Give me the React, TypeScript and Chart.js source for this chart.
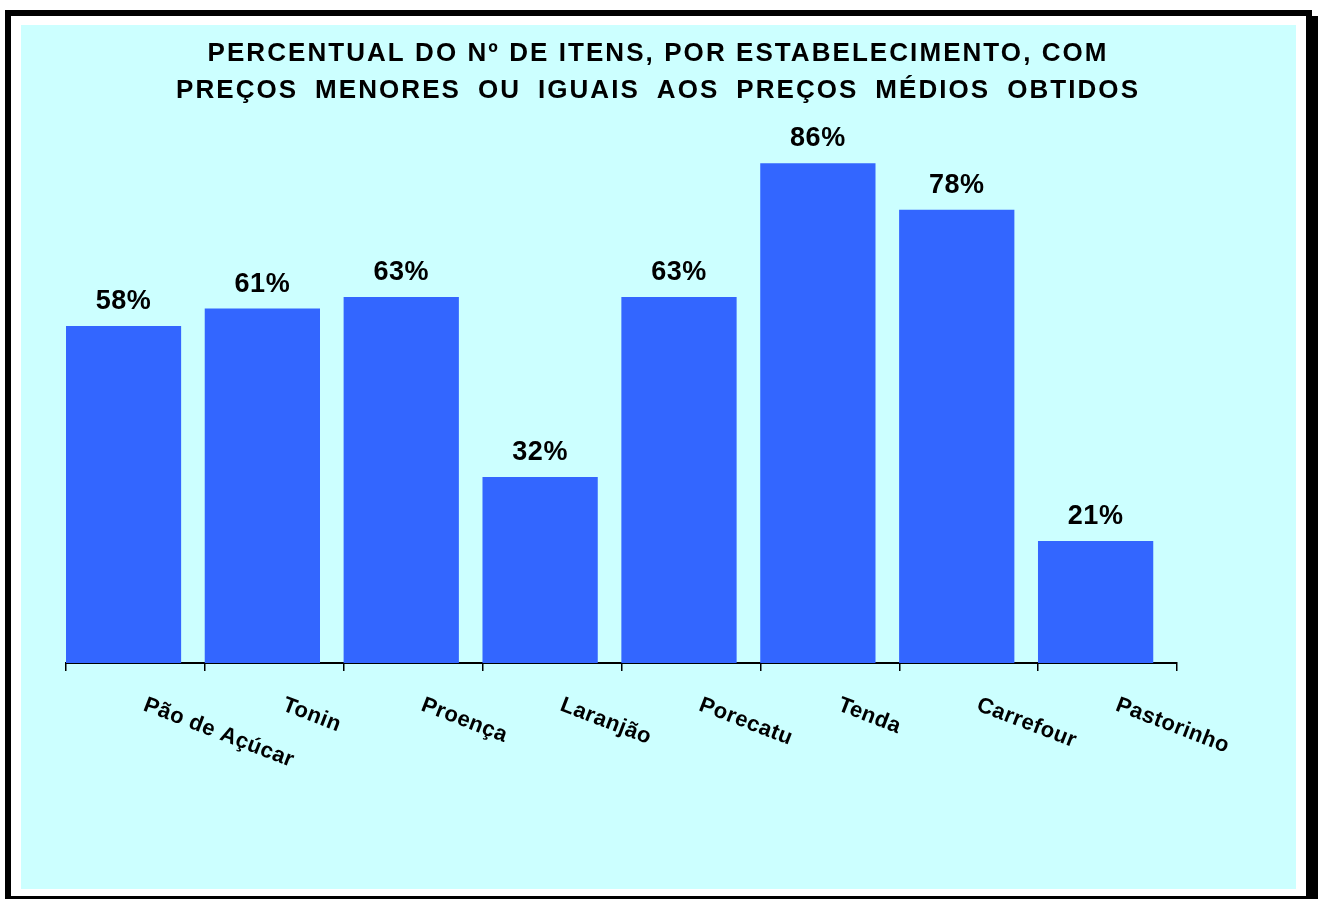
import React, { useEffect, useRef } from "react";
import { Chart, registerables } from "chart.js";

Chart.register(...registerables);

// ---- data ----
const categories = [
  "Pão de Açúcar",
  "Tonin",
  "Proença",
  "Laranjão",
  "Porecatu",
  "Tenda",
  "Carrefour",
  "Pastorinho",
];
const percentValues = [58, 61, 63, 32, 63, 86, 78, 21];
const titleLines = [
  "PERCENTUAL DO Nº DE ITENS, POR ESTABELECIMENTO, COM",
  "PREÇOS MENORES OU IGUAIS AOS PREÇOS MÉDIOS OBTIDOS",
];
const yAxisMin = 0;
const yAxisMax = 100;

// ---- style ----
const W = 1318;
const H = 899;
const FONT = '"Liberation Sans", Arial, Helvetica, sans-serif';
const BAR_COLOR = "#3366FF";
const PANEL_COLOR = "#CCFFFF";
const BAR_POS_IN_SLOT = 0.414; // Excel draws bars left-shifted in each slot
const TITLE_WIDTHS = [899, 962];
const TITLE_BASELINES = [61, 98];
const TITLE_CENTER = 657;

const framePlugin = {
  id: "frame",
  beforeDraw(chart: any) {
    const ctx = chart.ctx;
    ctx.save();
    ctx.fillStyle = "#FFFFFF";
    ctx.fillRect(0, 0, W, H);
    ctx.fillStyle = "#000000";
    ctx.fillRect(5, 10, 1307, 6); // top
    ctx.fillRect(5, 10, 6, H - 10); // left
    ctx.fillRect(1306, 16, W - 1306, H - 16); // right (with shadow)
    ctx.fillRect(5, 896, W - 5, H - 896); // bottom
    ctx.fillStyle = PANEL_COLOR;
    ctx.fillRect(21, 25, 1275, 864);
    ctx.restore();
  },
};

const titlePlugin = {
  id: "titleText",
  afterDraw(chart: any) {
    const ctx = chart.ctx;
    ctx.save();
    ctx.font = `bold 26px ${FONT}`;
    ctx.fillStyle = "#000";
    ctx.textAlign = "left";
    ctx.textBaseline = "alphabetic";
    // line 1: spread letters to width
    (ctx as any).wordSpacing = "0px";
    (ctx as any).letterSpacing = "0px";
    const n1 = ctx.measureText(titleLines[0]).width;
    const ls = (TITLE_WIDTHS[0] - n1) / (titleLines[0].length - 1);
    (ctx as any).letterSpacing = `${ls}px`;
    ctx.fillText(titleLines[0], TITLE_CENTER - TITLE_WIDTHS[0] / 2, TITLE_BASELINES[0]);
    // line 2: same letter spacing, extra on words
    (ctx as any).letterSpacing = "0px";
    const n2 = ctx.measureText(titleLines[1]).width + ls * (titleLines[1].length - 1);
    const spaces = titleLines[1].split(" ").length - 1;
    const ws = (TITLE_WIDTHS[1] - n2) / spaces;
    (ctx as any).letterSpacing = `${ls}px`;
    (ctx as any).wordSpacing = `${ws}px`;
    ctx.fillText(titleLines[1], TITLE_CENTER - TITLE_WIDTHS[1] / 2, TITLE_BASELINES[1]);
    ctx.restore();
  },
};

const labelsPlugin = {
  id: "barLabels",
  afterDatasetsDraw(chart: any) {
    const ctx = chart.ctx;
    const meta = chart.getDatasetMeta(0);
    ctx.save();
    ctx.font = `bold 27px ${FONT}`;
    (ctx as any).letterSpacing = "0.5px";
    ctx.fillStyle = "#000";
    ctx.textAlign = "center";
    ctx.textBaseline = "alphabetic";
    meta.data.forEach((el: any, i: number) => {
      ctx.fillText(`${percentValues[i]}%`, el.x, el.y - 17);
    });
    ctx.restore();

    // category labels, rotated clockwise like Excel
    const xs = chart.scales.x;
    ctx.save();
    ctx.font = `bold 22px ${FONT}`;
    (ctx as any).letterSpacing = "0.5px";
    ctx.fillStyle = "#000";
    ctx.textAlign = "left";
    ctx.textBaseline = "top";
    categories.forEach((c, i) => {
      const px = xs.getPixelForValue(i + 0.5) + 13;
      const py = xs.bottom + 23;
      ctx.save();
      ctx.translate(px, py);
      ctx.rotate((21 * Math.PI) / 180);
      ctx.fillText(c, 0, 0);
      ctx.restore();
    });
    ctx.restore();
  },
};

export default function App() {
  const ref = useRef<HTMLCanvasElement | null>(null);
  useEffect(() => {
    if (!ref.current) return;
    const chart = new Chart(ref.current, {
      type: "bar",
      data: {
        datasets: [
          {
            data: percentValues.map((v, i) => ({ x: i + BAR_POS_IN_SLOT, y: v })),
            backgroundColor: BAR_COLOR,
            borderWidth: 0,
            barPercentage: 0.83,
            categoryPercentage: 1,
          },
        ],
      },
      options: {
        animation: false,
        responsive: false,
        layout: { padding: { left: 66, right: 141, top: 82, bottom: 228 } },
        plugins: {
          legend: { display: false },
          tooltip: { enabled: false },
          title: { display: false },
        },
        scales: {
          x: {
            type: "linear",
            offset: false,
            min: 0,
            max: categories.length,
            position: "bottom",
            ticks: { display: false, stepSize: 1 },
            grid: {
              display: true,
              offset: false,
              drawOnChartArea: false,
              drawTicks: true,
              tickLength: 8,
              color: "#000",
              lineWidth: 1.5,
            },
            border: { display: true, color: "#000", width: 2 },
          },
          y: { display: false, min: yAxisMin, max: yAxisMax },
        },
      },
      plugins: [framePlugin, titlePlugin, labelsPlugin],
    } as any);
    return () => chart.destroy();
  }, []);
  return (
    <div style={{ position: "absolute", left: 0, top: 0, width: W, height: H }}>
      <canvas ref={ref} width={W} height={H} style={{ display: "block", width: W, height: H }} />
    </div>
  );
}
